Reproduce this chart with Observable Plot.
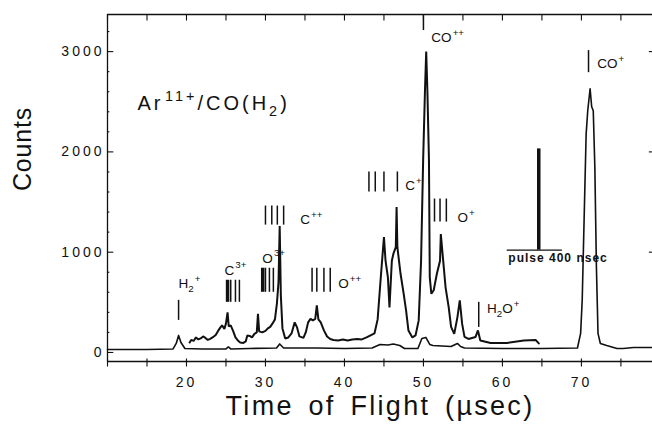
<!DOCTYPE html>
<html><head><meta charset="utf-8">
<script src="https://cdn.jsdelivr.net/npm/d3@7"></script>
<script src="https://cdn.jsdelivr.net/npm/@observablehq/plot@0.6"></script>
<style>
body{margin:0;background:#fff;}
#chart{width:652px;height:432px;overflow:hidden;}
</style></head><body><div id="chart"></div>
<script>
// ---- data ----
// upper trace (time of flight in µs, counts)
const upperTime = [20.4,20.6,20.9,21.2,21.5,21.8,22.1,22.4,22.7,23.0,23.3,23.7,24.0,24.3,24.5,24.8,25.0,25.2,25.35,25.6,25.9,26.2,26.5,26.8,27.2,27.5,27.7,28.0,28.3,28.6,28.9,29.05,29.2,29.6,30.0,30.3,30.6,30.9,31.2,31.45,31.65,31.8,31.95,32.15,32.5,32.9,33.3,33.7,34.0,34.3,34.8,35.1,35.4,35.7,36.0,36.3,36.5,36.7,37.0,37.4,37.8,38.2,38.6,39.2,39.8,40.4,41.0,41.6,42.2,42.8,43.3,43.8,44.2,44.6,45.0,45.2,45.5,45.7,46.0,46.2,46.5,46.6,46.7,47.1,47.5,47.8,48.1,48.6,49.0,49.4,49.7,49.96,50.2,50.35,50.5,50.7,50.8,51.0,51.3,51.7,52.1,52.2,52.5,52.8,53.2,53.5,53.9,54.3,54.6,54.9,55.2,55.7,56.6,56.9,57.2,58.5,60.6,62.7,64.2,64.6];
const upperCounts = [100,125,115,150,130,140,160,145,125,135,150,175,215,250,270,235,290,400,260,270,215,150,120,100,95,110,170,165,150,185,200,385,210,200,215,240,255,290,330,490,700,1260,560,240,140,150,190,300,250,160,145,200,300,335,320,335,470,330,300,220,160,135,125,120,130,120,130,135,130,150,170,190,330,750,1150,915,750,450,915,985,1050,1450,1050,785,585,420,220,150,170,320,915,1910,2630,3000,2610,1910,750,585,620,785,915,1180,915,650,450,255,185,350,520,285,155,135,155,220,120,95,95,120,125,90];
// lower trace
const lowerTime = [10,15,18.3,18.7,19.0,19.3,19.8,22,25.0,25.3,25.6,28,31.4,31.8,32.3,36.5,40,43.5,44.5,45.5,46.2,47.0,47.6,49.3,49.8,50.3,50.8,51.2,53.5,54.3,54.7,55.2,60,65,69.5,69.9,70.1,70.4,70.6,70.8,71.1,71.3,71.5,71.7,71.9,72.1,72.4,73.2,74.5,75.3,76.6,79];
const lowerCounts = [30,30,35,90,170,100,40,35,35,55,35,40,45,85,45,45,40,45,80,75,85,70,40,40,140,150,80,70,60,90,60,45,40,40,45,190,520,1520,2180,2410,2630,2450,2410,1850,850,190,90,70,40,40,50,50];

// axis ticks
const xTickLabels = [20,30,40,50,60,70];
const xTickMarks = [10,15,20,25,30,35,40,45,50,55,60,65,70,75];
const yTickLabels = [0,1000,2000,3000];
const yMinorTicks = [200,400,600,800,1200,1400,1600,1800,2200,2400,2600,2800,3200];

// ion marker lines
const markerTime = [19.0, 25.6,26.2,26.7, 30.0,30.5,31.0, 30.0,30.8,31.5,32.3, 35.9,36.5,37.4,38.2, 43.1,43.9,45.0,46.7, 50.0, 51.4,52.1,52.9, 57.0, 70.9];
const markerLow  = [320, 500,500,500, 600,600,600, 1270,1270,1270,1270, 600,600,600,600, 1600,1600,1600,1600, 3210, 1300,1300,1300, 250, 2790];
const markerHigh = [520, 720,720,720, 840,840,840, 1460,1460,1460,1460, 840,840,840,840, 1800,1800,1800,1800, 3370, 1530,1530,1530, 500, 3010];
const thickMarkerTime = [25.2, 29.65];
const thickMarkerLow = [500, 600];
const thickMarkerHigh = [720, 840];

// ion labels
const ionLabel = ["H₂⁺","C³⁺","O³⁺","C⁺⁺","O⁺⁺","C⁺","CO⁺⁺","O⁺","H₂O⁺","CO⁺"];
const ionLabelTime = [19.0, 24.8, 29.6, 34.4, 39.2, 47.7, 51.0, 54.3, 58.05, 72.0];
const ionLabelCounts = [690, 820, 940, 1320, 690, 1665, 3140, 1346, 440, 2880];

const systemLabel = "Ar¹¹⁺/CO(H₂)";
const systemTime = 13.8, systemCounts = 2480;

// pulse scale bar
const pulseLabel = "pulse 400 nsec";
const pulseBarTime = 64.6, pulseBarLow = 1020, pulseBarHigh = 2030;
const pulseBaseFrom = 60.6, pulseBaseTo = 67.6;
const pulseLabelTime = 60.75, pulseLabelCounts = 940;

const xTitle = "Time of Flight (µsec)";
const yTitle = "Counts";

// ---- build tables ----
const upper = upperTime.map((t, i) => ({t, c: upperCounts[i]}));
const lower = lowerTime.map((t, i) => ({t, c: lowerCounts[i]}));
const markers = markerTime.map((t, i) => ({t, lo: markerLow[i], hi: markerHigh[i]}));
const thickMarkers = thickMarkerTime.map((t, i) => ({t, lo: thickMarkerLow[i], hi: thickMarkerHigh[i]}));
const ions = ionLabel.map((s, i) => ({s, t: ionLabelTime[i], c: ionLabelCounts[i]}));

const FONT = "'Liberation Sans', Arial, Helvetica, sans-serif";
const xMin = 10, xMax = 79, yMin = -90, yMax = 3370;

const plot = Plot.plot({
  width: 652, height: 432,
  marginLeft: 107, marginRight: 0, marginTop: 14, marginBottom: 71,
  x: {domain: [xMin, xMax], axis: null},
  y: {domain: [yMin, yMax], axis: null},
  style: {fontFamily: FONT, color: "#111", background: "white", overflow: "visible"},
  marks: [
    // frame
    Plot.ruleY([yMin, yMax], {stroke: "#111", strokeWidth: 1.3}),
    Plot.ruleX([xMin], {stroke: "#111", strokeWidth: 1.3}),
    // ticks
    Plot.ruleX(xTickMarks, {y1: yMax, y2: yMax - 65, stroke: "#111", strokeWidth: 1.1}),
    Plot.ruleX(xTickMarks, {y1: yMin + 25, y2: yMin - 55, stroke: "#111", strokeWidth: 1.1}),
    Plot.ruleY(yTickLabels, {x1: xMin, x2: xMin + 0.8, stroke: "#111", strokeWidth: 1.1}),
    Plot.ruleY(yMinorTicks, {x1: xMin, x2: xMin + 0.3, stroke: "#111", strokeWidth: 1.1}),
    Plot.ruleY([1000, 2000, 3000], {x1: xMax, x2: xMax - 0.4, stroke: "#111", strokeWidth: 1.1}),
    // tick labels
    Plot.text(xTickLabels, {x: d => d, y: yMin, dy: 21, text: d => String(d), fontSize: 14, fill: "#111", ariaDescription: "xticklabels"}),
    Plot.text(yTickLabels, {x: xMin, y: d => d, dx: -3, textAnchor: "end", text: d => String(d), fontSize: 14, fill: "#111", ariaDescription: "yticklabels"}),
    // traces
    Plot.line(lower, {x: "t", y: "c", stroke: "#111", strokeWidth: 1.6}),
    Plot.line(upper, {x: "t", y: "c", stroke: "#111", strokeWidth: 2, strokeLinejoin: "miter"}),
    // ion markers
    Plot.ruleX(markers, {x: "t", y1: "lo", y2: "hi", stroke: "#111", strokeWidth: 1.5}),
    Plot.ruleX(thickMarkers, {x: "t", y1: "lo", y2: "hi", stroke: "#111", strokeWidth: 3.5}),
    Plot.text(ions, {x: "t", y: "c", text: "s", textAnchor: "start", fontSize: 13.5, fill: "#111", ariaDescription: "ions"}),
    Plot.text([systemLabel], {x: systemTime, y: systemCounts, text: d => d, textAnchor: "start", fontSize: 20, fill: "#111", ariaDescription: "system"}),
    // pulse scale bar
    Plot.ruleX([pulseBarTime], {y1: pulseBarLow, y2: pulseBarHigh, stroke: "#111", strokeWidth: 3.5}),
    Plot.ruleY([pulseBarLow], {x1: pulseBaseFrom, x2: pulseBaseTo, stroke: "#111", strokeWidth: 1.3}),
    Plot.text([pulseLabel], {x: pulseLabelTime, y: pulseLabelCounts, text: d => d, textAnchor: "start", fontSize: 12, fontWeight: "bold", fill: "#111", ariaDescription: "pulse"}),
    // axis titles
    Plot.text([yTitle], {frameAnchor: "left", dx: -85, dy: 3, rotate: -90, text: d => d, fontSize: 25, fill: "#111", ariaDescription: "ytitle"}),
    Plot.text([xTitle], {frameAnchor: "bottom", dy: 53, text: d => d, fontSize: 27, fill: "#111", ariaDescription: "xtitle"})
  ]
});
document.getElementById("chart").appendChild(plot);

// ---- text styling: letter spacing and super/subscripts ----
const svg = d3.select(plot);
svg.selectAll('g[aria-description="xticklabels"] text, g[aria-description="yticklabels"] text').attr("letter-spacing", 3);
svg.selectAll('g[aria-description="xtitle"] text').attr("letter-spacing", 2.3).attr("word-spacing", 5);
svg.selectAll('g[aria-description="ytitle"] text').attr("letter-spacing", 0.8);
svg.selectAll('g[aria-description="pulse"] text').attr("letter-spacing", 1);

const SUP = {"⁰":"0","¹":"1","²":"2","³":"3","⁴":"4","⁺":"+"};
const SUB = {"₂":"2"};
function richify(el, size) {
  const runs = [];
  for (const ch of el.textContent) {
    const type = SUP[ch] ? "sup" : SUB[ch] ? "sub" : "n";
    const c = SUP[ch] || SUB[ch] || ch;
    if (runs.length && runs[runs.length - 1].type === type) runs[runs.length - 1].s += c;
    else runs.push({type, s: c});
  }
  while (el.firstChild) el.removeChild(el.firstChild);
  let cur = 0;
  for (const r of runs) {
    const ts = document.createElementNS("http://www.w3.org/2000/svg", "tspan");
    const target = r.type === "sup" ? -0.45 * size : r.type === "sub" ? 0.3 * size : 0;
    ts.setAttribute("dy", target - cur);
    cur = target;
    if (r.type !== "n") ts.setAttribute("font-size", 0.72 * size);
    if (r.type === "sup") ts.setAttribute("dx", 0.08 * size);
    ts.textContent = r.s;
    el.appendChild(ts);
  }
}
svg.selectAll('g[aria-description="ions"] text').each(function() { richify(this, 13.5); });
svg.selectAll('g[aria-description="system"] text').each(function() { richify(this, 20); });
svg.selectAll('g[aria-description="system"] text').attr("letter-spacing", 3);
</script></body></html>
